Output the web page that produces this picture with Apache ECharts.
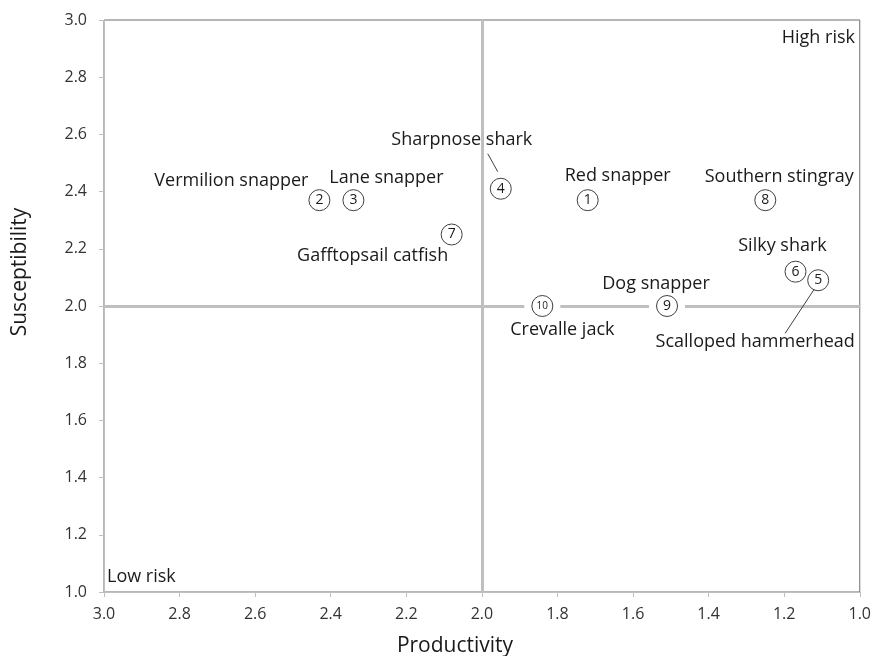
<!DOCTYPE html>
<html>
<head>
<meta charset="utf-8">
<script src="https://cdn.jsdelivr.net/npm/echarts@6/dist/echarts.min.js"></script>
<style>
  html, body { margin: 0; padding: 0; background: #fff; }
  #chart { width: 874px; height: 656px; }
</style>
</head>
<body>
<div id="chart"></div>
<script>
// Productivity–susceptibility analysis of ten species
const ids = [1, 2, 3, 4, 5, 6, 7, 8, 9, 10];
const species = [
  'Red snapper', 'Vermilion snapper', 'Lane snapper', 'Sharpnose shark',
  'Scalloped hammerhead', 'Silky shark', 'Gafftopsail catfish',
  'Southern stingray', 'Dog snapper', 'Crevalle jack'
];
const productivity = [1.72, 2.43, 2.34, 1.95, 1.11, 1.17, 2.08, 1.25, 1.51, 1.84];
const susceptibility = [2.37, 2.37, 2.37, 2.41, 2.09, 2.12, 2.25, 2.37, 2.00, 2.00];
const xTicks = ['3.0', '2.8', '2.6', '2.4', '2.2', '2.0', '1.8', '1.6', '1.4', '1.2', '1.0'];
const threshold = 2.0;

// Name label placement relative to each marker (pixels)
const labelOffsets = [
  [30, -24], [-88, -19], [33, -22], [-39, -49], [-63, 62],
  [-13, -26], [-79, 21], [14, -23], [-11, -22], [20, 24]
];
// Leader lines (pixel offsets from the marker) for labels placed away from their point
const leaders = { 3: [[-13, -35], [-3, -17]], 4: [[-4, 9], [-33, 53]] };

const FONT = '"Open Sans", sans-serif';
const TEXT = '#1a1a1a';
const points = productivity.map((p, i) => [p, susceptibility[i]]);

const chart = echarts.init(document.getElementById('chart'), null, { renderer: 'canvas' });

chart.setOption({
  animation: false,
  backgroundColor: '#ffffff',
  grid: {
    left: 104, right: 13, top: 20, bottom: 64,
    show: true, borderColor: '#6f6f6f', borderWidth: 1, backgroundColor: 'transparent'
  },
  xAxis: {
    type: 'value', min: 1, max: 3, interval: 0.2, inverse: true,
    axisLine: { show: true, onZero: false, lineStyle: { color: '#bfbfbf', width: 1 } },
    axisTick: { show: true, length: 5, lineStyle: { color: '#bfbfbf' } },
    splitLine: { show: false },
    axisLabel: {
      margin: 14, fontFamily: FONT, fontSize: 16, color: '#333333',
      formatter: v => xTicks[Math.round((3 - v) / 0.2)]
    }
  },
  yAxis: {
    type: 'value', min: 1, max: 3, interval: 0.2,
    axisLine: { show: true, onZero: false, lineStyle: { color: '#bfbfbf', width: 1 } },
    axisTick: { show: true, length: 5, lineStyle: { color: '#bfbfbf' } },
    splitLine: { show: false },
    axisLabel: {
      margin: 17, fontFamily: FONT, fontSize: 16, color: '#333333',
      formatter: v => v.toFixed(1)
    }
  },
  series: [
    {
      // quadrant dividers
      type: 'scatter', data: [], z: 1, silent: true,
      markLine: {
        silent: true, z: 1, symbol: ['none', 'none'], label: { show: false },
        lineStyle: { color: '#bfbfbf', width: 3, type: 'solid' },
        data: [{ xAxis: threshold }, { yAxis: threshold }]
      }
    },
    {
      // white backing behind markers that sit on the divider line
      type: 'scatter', z: 2, silent: true,
      symbol: 'rect', symbolSize: [36, 8],
      itemStyle: { color: '#ffffff', opacity: 1 },
      data: points.filter(pt => pt[1] === threshold)
    },
    {
      // species names
      type: 'scatter', z: 3, silent: true,
      symbol: 'circle', symbolSize: 1, itemStyle: { color: '#ffffff', opacity: 1 },
      data: points.map((pt, i) => ({
        value: pt,
        label: {
          show: true, position: 'inside', offset: labelOffsets[i], opacity: 1,
          formatter: species[i], fontFamily: FONT, fontSize: 18, color: TEXT,
          textBorderWidth: 0
        }
      }))
    },
    {
      // numbered markers
      type: 'scatter', z: 4, symbol: 'circle', symbolSize: 21,
      itemStyle: { color: '#ffffff', borderColor: '#404040', borderWidth: 1, opacity: 1 },
      data: points.map((pt, i) => ({
        value: pt,
        label: {
          show: true, position: 'inside', formatter: String(ids[i]), opacity: 1,
          fontFamily: FONT, fontSize: ids[i] >= 10 ? 10 : 14, color: TEXT,
          textBorderWidth: 0
        }
      }))
    }
  ]
});

// annotation texts, axis titles and leader lines
const graphics = [
  { type: 'text', x: 855, y: 38, style: { text: 'High risk', fontFamily: FONT, fontSize: 18, fill: TEXT, align: 'right', verticalAlign: 'middle' } },
  { type: 'text', x: 107, y: 577, style: { text: 'Low risk', fontFamily: FONT, fontSize: 18, fill: TEXT, align: 'left', verticalAlign: 'middle' } },
  { type: 'text', x: 455, y: 646, style: { text: 'Productivity', fontFamily: FONT, fontSize: 21, fill: TEXT, align: 'center', verticalAlign: 'middle' } },
  { type: 'text', x: 20, y: 272, rotation: Math.PI / 2, style: { text: 'Susceptibility', fontFamily: FONT, fontSize: 21, fill: TEXT, align: 'center', verticalAlign: 'middle' } }
];
Object.keys(leaders).forEach(k => {
  const c = chart.convertToPixel({ gridIndex: 0 }, points[k]);
  const [a, b] = leaders[k];
  graphics.push({
    type: 'line', z: 5,
    shape: { x1: c[0] + a[0], y1: c[1] + a[1], x2: c[0] + b[0], y2: c[1] + b[1] },
    style: { stroke: '#404040', lineWidth: 1 }
  });
});
chart.setOption({ graphic: graphics });
</script>
</body>
</html>
